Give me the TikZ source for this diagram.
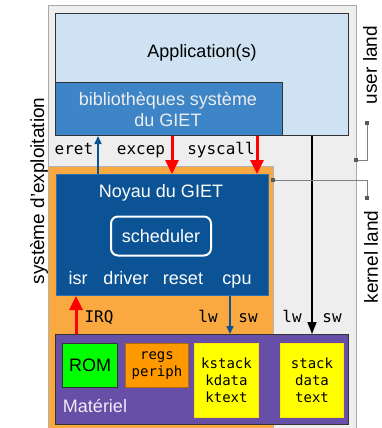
\documentclass[tikz,border=0pt]{standalone}
\usepackage{fontspec}
\setmainfont{Liberation Sans}
\setmonofont{DejaVu Sans Mono}
\usetikzlibrary{arrows.meta}
\definecolor{grisfond}{HTML}{EEEEEE}
\definecolor{grisbord}{HTML}{AAAAAA}
\definecolor{bleuappli}{HTML}{CFE2F3}
\definecolor{bleubib}{HTML}{3D85C6}
\definecolor{bleunoyau}{HTML}{0B5394}
\definecolor{orangeos}{HTML}{F9A93F}
\definecolor{violetmat}{HTML}{674EA7}
\definecolor{vertrom}{HTML}{00FF00}
\definecolor{orangereg}{HTML}{FF9900}
\definecolor{jaunemem}{HTML}{FFFF00}
\tikzset{
  boite/.style={draw=black!80, line width=1pt, anchor=north west, inner sep=0pt},
  texte/.style={font=\fontsize{18}{21}\selectfont},
  cote/.style={font=\fontsize{19}{21}\selectfont, rotate=90},
  code/.style={font=\ttfamily\fontsize{16}{18}\selectfont, anchor=base},
  petitcode/.style={font=\ttfamily\fontsize{14}{17}\selectfont, align=center},
  flecherouge/.style={draw=red, line width=3pt, -{Triangle[width=13pt,length=14pt]}},
  flechebleue/.style={draw=bleunoyau, line width=1.5pt, -{Triangle[width=7pt,length=8pt]}},
  flechenoire/.style={draw=black, line width=1.5pt, -{Triangle[width=9pt,length=12pt]}},
  renvoi/.style={draw=black!50, line width=1pt},
  carre/.style={fill=black!65, minimum size=4pt, inner sep=0pt}
}
\begin{document}
\begin{tikzpicture}[x=1pt,y=-1pt]
  \useasboundingbox (0,0) rectangle (381,428);
  % fonds
  \fill[grisfond] (48,6) rectangle (356,432);
  \draw[grisbord, line width=1pt] (48,432) -- (48,6) -- (356,6) -- (356,432);
  \fill[orangeos] (48,166) rectangle (273,432);
  \draw[black!30, line width=1pt] (48,432) -- (48,166) -- (273,166) -- (273,432);

  % couche utilisateur
  \node[boite, fill=bleuappli, minimum width=293pt, minimum height=122pt] (appli) at (55,13) {};
  \node[texte] (lappli) at (202,53) {Application(s)};
  \node[boite, fill=bleubib, minimum width=227pt, minimum height=53pt] (biblio) at (55,82) {};
  \node[texte, text=white!93!black, align=center] (lbiblio) at (168,109) {biblioth\`eques syst\`eme\\du GIET};

  % noyau
  \node[boite, draw=bleubib!60!bleunoyau, fill=bleunoyau, minimum width=212pt, minimum height=121pt] (noyau) at (56,174) {};
  \node[texte, text=white] (lnoyau) at (161,193) {Noyau du GIET};
  \node[draw=white, line width=2pt, rounded corners=7pt, fill=bleunoyau, text=white, texte,
        minimum width=100pt, minimum height=39pt] (sched) at (161,236) {scheduler};
  \node[texte, text=white, anchor=base] (isr) at (78,284) {isr};
  \node[texte, text=white, anchor=base] (driver) at (126,284) {driver};
  \node[texte, text=white, anchor=base] (reset) at (183,284) {reset};
  \node[texte, text=white, anchor=base] (cpu) at (237,284) {cpu};

  % materiel
  \node[boite, fill=violetmat, minimum width=293pt, minimum height=90pt] (mat) at (55,334) {};
  \node[boite, fill=vertrom, minimum width=55pt, minimum height=44pt] (rom) at (62,343) {};
  \node[texte] at (rom.center) {ROM};
  \node[boite, draw=orangereg!70!black, fill=orangereg, minimum width=63pt, minimum height=44pt] (regs) at (125,343) {};
  \node[petitcode] at (regs.center) {regs\\periph};
  \node[boite, draw=jaunemem!80!orange, fill=jaunemem, minimum width=64pt, minimum height=74pt] (kmem) at (194,343) {};
  \node[petitcode] at (kmem.center) {kstack\\kdata\\ktext};
  \node[boite, draw=jaunemem!80!orange, fill=jaunemem, minimum width=63pt, minimum height=74pt] (umem) at (280,343) {};
  \node[petitcode] at (umem.center) {stack\\data\\text};
  \node[texte, text=white!90!violetmat, anchor=base] (lmat) at (95,412) {Mat\'eriel};

  % appels et retours
  \node[code] (eret) at (74,154) {eret};
  \node[code] (excep) at (141,154) {excep};
  \node[code] (syscall) at (221,154) {syscall};
  \draw[flechebleue] (noyau.north -| 98,0) -- (biblio.south -| 98,0);
  \draw[flecherouge] (biblio.south -| 172,0) -- (noyau.north -| 172,0);
  \draw[flecherouge] (biblio.south -| 257,0) -- (noyau.north -| 257,0);

  % acces memoire et interruptions
  \node[code] (irq) at (99,322) {IRQ};
  \node[code] (klw) at (208,322) {lw};
  \node[code] (ksw) at (248,322) {sw};
  \node[code] (ulw) at (292,322) {lw};
  \node[code] (usw) at (332,322) {sw};
  \draw[flecherouge] (mat.north -| 76,0) -- (noyau.south -| 76,0);
  \draw[flechebleue] (noyau.south -| 230,0) -- (mat.north -| 230,0);
  \draw[flechenoire] (appli.south -| 312,0) -- (mat.north -| 312,0);

  % legendes laterales
  \node[cote] (los) at (39,191) {syst\`eme d'exploitation};
  \node[cote] (luser) at (370,65) {user land};
  \node[cote] (lkernel) at (371,257) {kernel land};
  \coordinate (buser) at (356,160);
  \coordinate (tuser) at (367,123);
  \coordinate (bkernel) at (273,180);
  \coordinate (tkernel) at (367,198);
  \draw[renvoi] (buser) -| (tuser);
  \draw[renvoi] (bkernel) -| (tkernel);
  \foreach \p in {buser,tuser,bkernel,tkernel}
    \node[carre] at (\p) {};
\end{tikzpicture}
\end{document}
